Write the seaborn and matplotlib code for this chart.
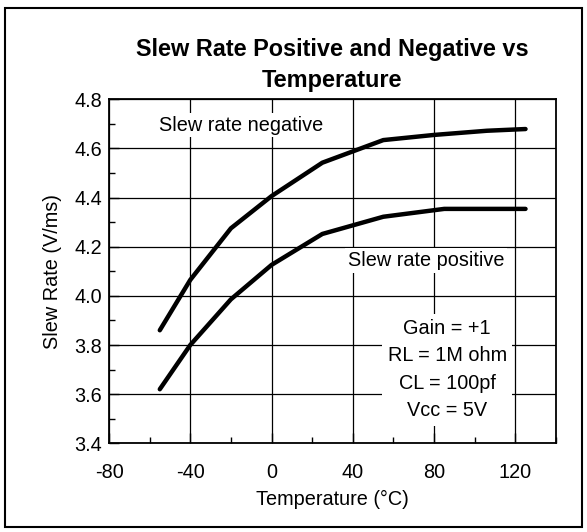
import matplotlib
matplotlib.use("Agg")
import matplotlib.pyplot as plt
import seaborn as sns
import pandas as pd
from matplotlib.patches import Rectangle
from matplotlib.ticker import MultipleLocator

sns.set_theme(style="white")
plt.rcParams['font.family'] = ['Liberation Sans', 'DejaVu Sans']
plt.rcParams['axes.unicode_minus'] = False

temp_neg = [-55, -40, -20, 0, 25, 55, 80, 106, 125]
sr_neg = [3.86, 4.065, 4.275, 4.406, 4.542, 4.634, 4.655, 4.672, 4.679]
temp_pos = [-55, -40, -20, 0, 25, 55, 85, 125]
sr_pos = [3.62, 3.80, 3.986, 4.126, 4.252, 4.322, 4.354, 4.354]

df = pd.concat([
    pd.DataFrame({"Temperature": temp_neg, "SlewRate": sr_neg, "Series": "negative"}),
    pd.DataFrame({"Temperature": temp_pos, "SlewRate": sr_pos, "Series": "positive"}),
])

fig = plt.figure(figsize=(5.87, 5.32), dpi=100)
ax = fig.add_axes([109/587, 1-443.3/532, (556-109)/587, (443.3-99.3)/532])

sns.lineplot(data=df, x="Temperature", y="SlewRate", units="Series", estimator=None,
             color="black", linewidth=3.2, ax=ax, legend=False, sort=False,
             solid_capstyle="round")

ax.set_xlim(-80, 140)
ax.set_ylim(3.4, 4.8)
ax.xaxis.set_major_locator(MultipleLocator(40))
ax.xaxis.set_minor_locator(MultipleLocator(20))
ax.yaxis.set_major_locator(MultipleLocator(0.2))
ax.yaxis.set_minor_locator(MultipleLocator(0.1))
ax.set_xticks([-80, -40, 0, 40, 80, 120])
ax.set_xticklabels([str(v) for v in [-80, -40, 0, 40, 80, 120]])
ax.set_yticks([3.4, 3.6, 3.8, 4.0, 4.2, 4.4, 4.6, 4.8])
ax.set_yticklabels([f"{v:.1f}" for v in [3.4, 3.6, 3.8, 4.0, 4.2, 4.4, 4.6, 4.8]])
ax.grid(True, which="major", color="black", linewidth=0.9)
ax.tick_params(axis="both", which="major", direction="in", length=7, width=1,
               labelsize=14.3, color="black", labelcolor="black")
ax.tick_params(axis="x", which="major", pad=14)
ax.tick_params(axis="y", which="major", pad=5)
ax.tick_params(axis="both", which="minor", direction="in", length=4, width=1, color="black")
ax.tick_params(bottom=True, left=True, which="both")
for s in ax.spines.values():
    s.set_color("black")
    s.set_linewidth(1.3)

ax.set_xlabel("Temperature (°C)", fontsize=14.3, color="black", labelpad=6)
ax.set_ylabel("Slew Rate (V/ms)", fontsize=14.3, color="black", labelpad=9)
ax.set_title("Slew Rate Positive and Negative vs\nTemperature", fontsize=16.9,
             fontweight="bold", color="black", pad=9, linespacing=1.45)

bbox = dict(facecolor="white", edgecolor="none", pad=2)
ax.text(-55.4, 4.695, "Slew rate negative", fontsize=14.3, color="black",
        ha="left", va="center", bbox=bbox, zorder=3)
ax.text(37.7, 4.143, "Slew rate positive", fontsize=14.3, color="black",
        ha="left", va="center", bbox=bbox, zorder=3)
ax.text(86.5, 3.70, "Gain = +1\nRL = 1M ohm\nCL = 100pf\nVcc = 5V", fontsize=14.3,
        color="black", ha="center", va="center", linespacing=1.55,
        bbox=dict(facecolor="white", edgecolor="none", pad=4), zorder=3)

fig.patches.append(Rectangle((5/587, 1-527/532), 577/587, 519/532, transform=fig.transFigure,
                             fill=False, edgecolor="black", linewidth=1.5))

fig.savefig("out.png", dpi=100)
